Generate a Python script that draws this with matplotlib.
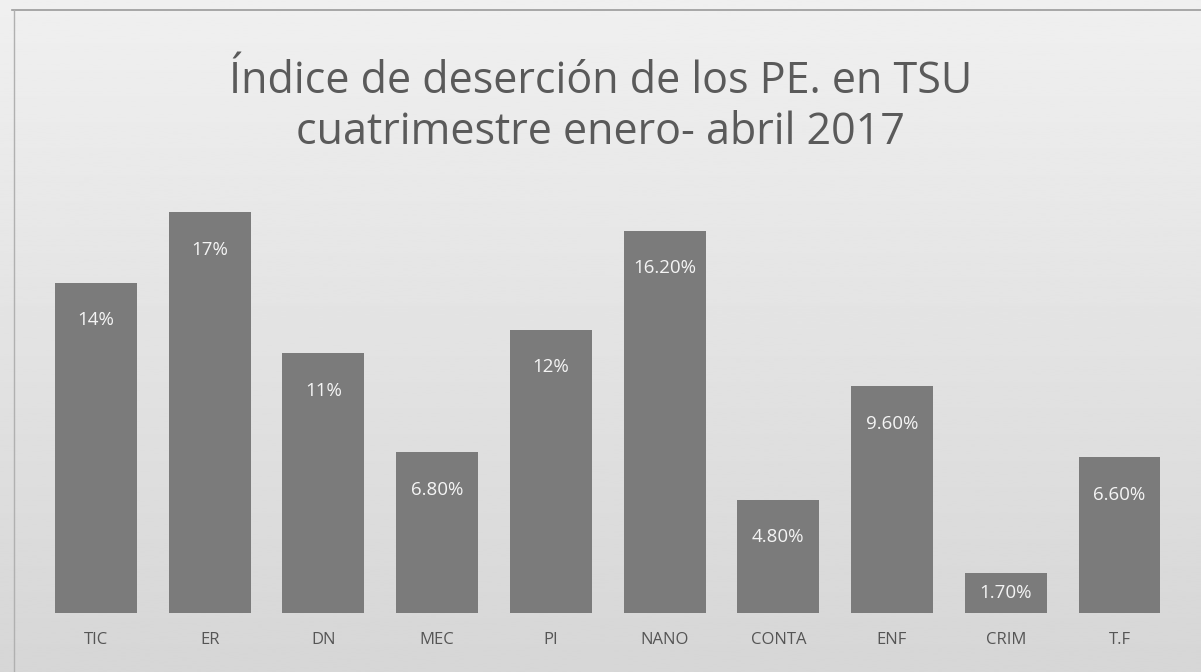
import matplotlib.pyplot as plt
import numpy as np

programas = ['TIC', 'ER', 'DN', 'MEC', 'PI', 'NANO', 'CONTA', 'ENF', 'CRIM', 'T.F']
desercion = [14, 17, 11, 6.8, 12, 16.2, 4.8, 9.6, 1.7, 6.6]
etiquetas = ['14%', '17%', '11%', '6.80%', '12%', '16.20%', '4.80%', '9.60%', '1.70%', '6.60%']

plt.rcParams['font.family'] = ['Open Sans', 'DejaVu Sans']

fig = plt.figure(figsize=(12.01, 6.72), dpi=100)

# fondo gris con degradado (imitando la copia escaneada)
bg = fig.add_axes([0, 0, 1, 1], zorder=0)
grad = np.linspace(0.94, 0.84, 256).reshape(-1, 1)
bg.imshow(grad, cmap='gray', vmin=0, vmax=1, aspect='auto', extent=[0, 1, 0, 1])
bg.plot([0.01, 1], [0.985, 0.985], color='#9a9a9a', lw=1.2)
bg.plot([0.012, 0.012], [0.0, 0.985], color='#b0b0b0', lw=1)
bg.set_xlim(0, 1)
bg.set_ylim(0, 1)
bg.axis('off')

ax = fig.add_axes([0.0325, 0.088, 0.947, 0.632], zorder=1)
ax.patch.set_alpha(0)
x = np.arange(len(programas))
bars = ax.bar(x, desercion, width=0.72, color='#7b7b7b')
for b, txt in zip(bars, etiquetas):
    h = b.get_height()
    ax.text(b.get_x() + b.get_width() / 2, max(h - 1.6, h / 2), txt,
            ha='center', va='center', color='#f4f4f4', fontsize=13.5)

ax.set_xlim(-0.5, len(programas) - 0.5)
ax.set_ylim(0, 18)
ax.set_xticks(x)
ax.set_xticklabels(programas, fontsize=12, color='#555555')
ax.tick_params(axis='x', length=0, pad=14)
ax.set_yticks([])
for s in ax.spines.values():
    s.set_visible(False)

fig.text(0.5, 0.84, 'Índice de deserción de los PE. en TSU\ncuatrimestre enero- abril 2017',
         ha='center', va='center', fontsize=31, color='#5a5a5a', linespacing=1.2)

fig.savefig('out.png', dpi=100)
